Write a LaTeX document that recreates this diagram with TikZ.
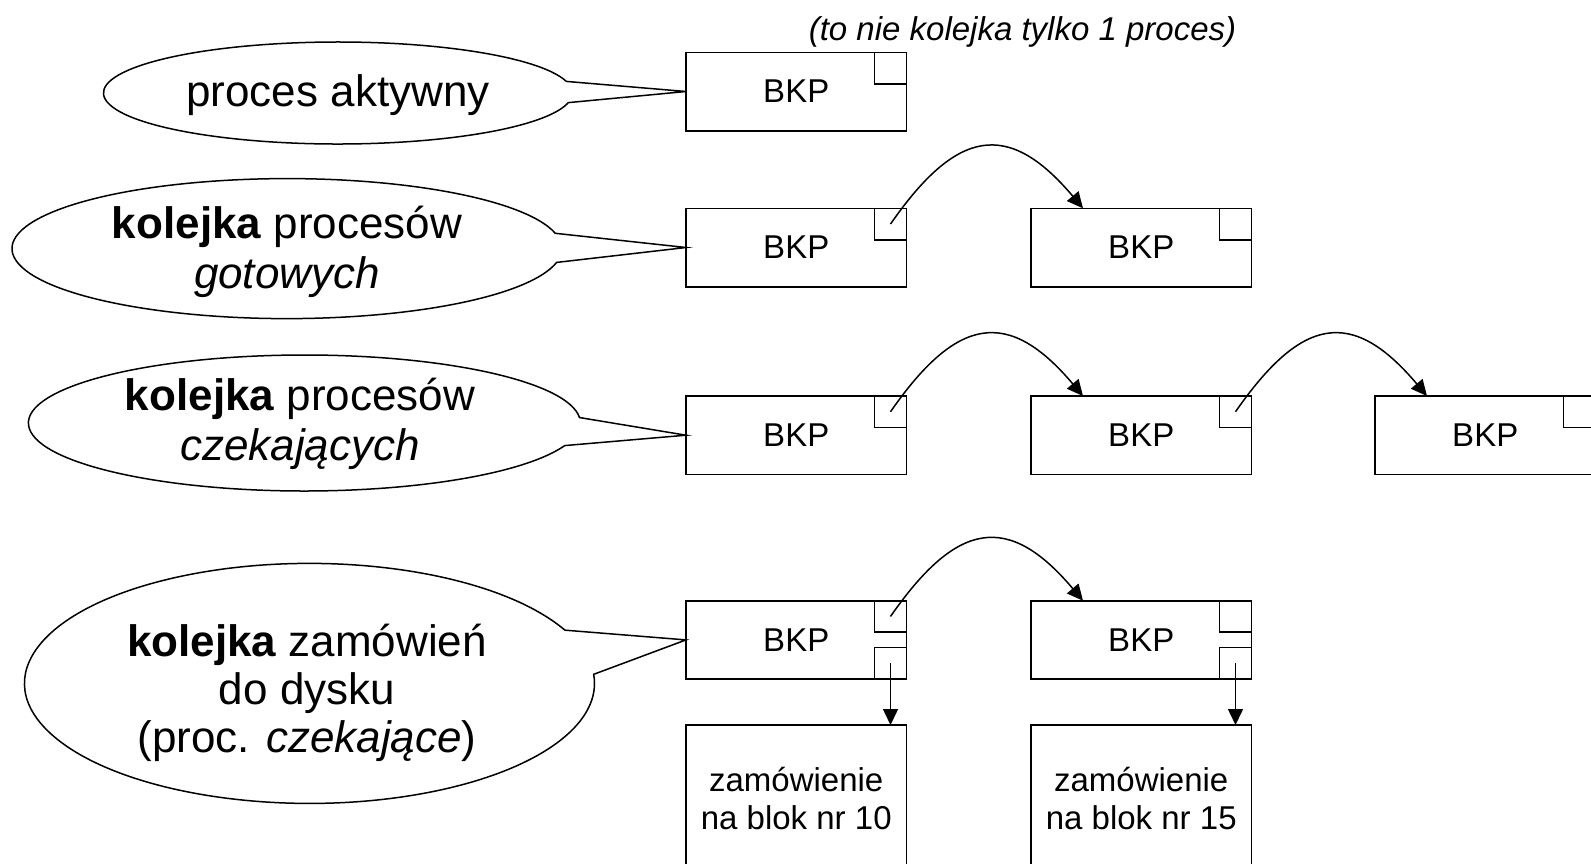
\documentclass[tikz,border=0pt]{standalone}
\usepackage{fontspec}
\setmainfont{Liberation Sans}
\usetikzlibrary{shapes.callouts,arrows.meta,calc}

\begin{document}
\begin{tikzpicture}[x=1pt,y=-1pt,
  every node/.style={inner sep=0pt, outer sep=0pt},
  bkp/.style={draw, line width=1.6pt, minimum width=220.5pt, minimum height=78.4pt,
    anchor=north west, font=\fontsize{33}{38.6}\selectfont},
  slot/.style={draw, line width=1.6pt, minimum width=32pt, minimum height=31.5pt},
  reqbox/.style={draw, line width=1.6pt, minimum width=220.5pt, minimum height=147pt,
    anchor=north west, align=center, font=\fontsize{33}{38.6}\selectfont},
  bubble/.style={ellipse callout, draw, line width=1.5pt, callout pointer arc=24},
  bubbletext/.style={align=center, font=\fontsize{44}{50}\selectfont},
  link/.style={-{Triangle[length=16pt,width=15pt]}, line width=1.5pt},
  ]
\useasboundingbox (0,0) rectangle (1591,863);
\fill[white] (0,0) rectangle (1591,863);
\clip (0,0) rectangle (1591,863);

% process control blocks
\node[bkp] (b11) at (686,52.3) {BKP};
\node[bkp] (b21) at (686,208.3) {BKP};
\node[bkp] (b22) at (1031,208.3) {BKP};
\node[bkp] (b31) at (686,396) {BKP};
\node[bkp] (b32) at (1031,396) {BKP};
\node[bkp] (b33) at (1375,396) {BKP};
\node[bkp] (b41) at (686,600.7) {BKP};
\node[bkp] (b42) at (1031,600.7) {BKP};

% pointer slots in the corners
\node[slot, anchor=north east] (s11) at (b11.north east) {};
\node[slot, anchor=north east] (s21) at (b21.north east) {};
\node[slot, anchor=north east] (s22) at (b22.north east) {};
\node[slot, anchor=north east] (s31) at (b31.north east) {};
\node[slot, anchor=north east] (s32) at (b32.north east) {};
\node[slot, anchor=north east] (s33) at (b33.north east) {};
\node[slot, anchor=north east] (s41) at (b41.north east) {};
\node[slot, anchor=north east] (s42) at (b42.north east) {};
\node[slot, anchor=south east] (q41) at (b41.south east) {};
\node[slot, anchor=south east] (q42) at (b42.south east) {};

% disk requests
\node[reqbox] (r1) at (686,725) {zamówienie\\na blok nr 10};
\node[reqbox] (r2) at (1031,725) {zamówienie\\na blok nr 15};

% caption above the active process
\node[anchor=base, font=\fontsize{33}{38.6}\selectfont\itshape] (cap) at (1022.5,40)
  {(to nie kolejka tylko 1 proces)};

% speech bubbles
\node[bubble, minimum width=469pt, minimum height=102pt,
  callout absolute pointer={(b11.west)}] (c1) at (338,93) {};
\node[bubble, minimum width=550pt, minimum height=140pt,
  callout absolute pointer={(b21.west)}] (c2) at (287,248.6) {};
\node[bubble, minimum width=552pt, minimum height=136pt,
  callout absolute pointer={(b31.west)}] (c3) at (304.4,423) {};
\node[bubble, minimum width=570pt, minimum height=240pt, callout pointer arc=22,
  callout absolute pointer={(b41.west)}] (c4) at (309.5,683.4) {};

\node[bubbletext, anchor=base] (t1) at (338,106.5) {proces aktywny};
\node[bubbletext] (t2) at (287,252) {\textbf{kolejka} procesów\\\textit{gotowych}};
\node[bubbletext] (t3) at (300,424) {\textbf{kolejka} procesów\\\textit{czekających}};
\node[bubbletext, font=\fontsize{44}{48}\selectfont] (t4) at (307,693)
  {\textbf{kolejka} zamówień\\do dysku\\(proc. \textit{czekające})};

% queue links
\draw[link] (s21.center) .. controls +(66,-95) and +(-75,-89) .. ([xshift=52pt]b22.north west);
\draw[link] (s31.center) .. controls +(66,-95) and +(-75,-89) .. ([xshift=52pt]b32.north west);
\draw[link] (s32.center) .. controls +(66,-95) and +(-75,-89) .. ([xshift=52pt]b33.north west);
\draw[link] (s41.center) .. controls +(66,-95) and +(-75,-89) .. ([xshift=52pt]b42.north west);

% links to disk requests
\draw[link] (q41.center) -- (q41.center |- r1.north);
\draw[link] (q42.center) -- (q42.center |- r2.north);
\end{tikzpicture}
\end{document}
